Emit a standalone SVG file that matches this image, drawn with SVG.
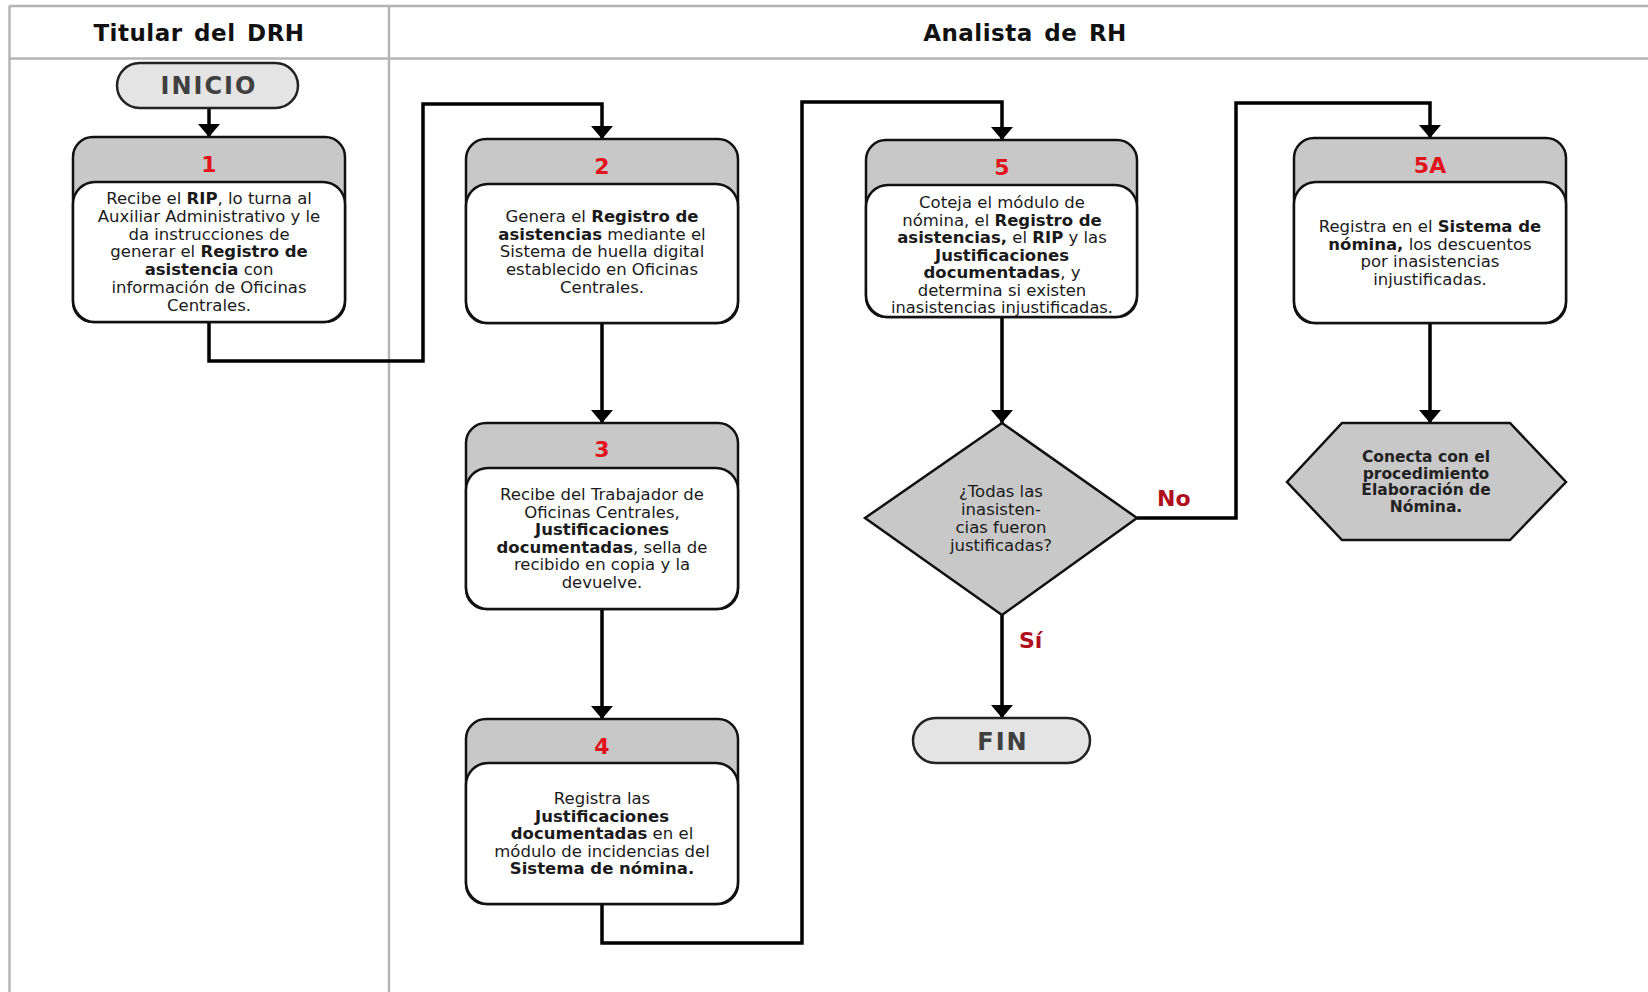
<svg xmlns="http://www.w3.org/2000/svg" width="1648" height="992" viewBox="0 0 1648 992">
  <style>
    .lane { stroke: #b4b4b4; stroke-width: 2.5; fill: none; }
    .lanetitle { font-family: "DejaVu Sans", Verdana, sans-serif; font-size: 23px; font-weight: bold; fill: #111; text-anchor: middle; letter-spacing: 0.5px; word-spacing: 3px; }
    .head { fill: #c8c8c8; stroke: #111; stroke-width: 2.5; }
    .body { fill: #ffffff; stroke: #111; stroke-width: 2.5; }
    .term { fill: #e4e4e4; stroke: #222; stroke-width: 2.5; }
    .shape { fill: #c8c8c8; stroke: #111; stroke-width: 2.5; }
    .num { font-family: "DejaVu Sans", Verdana, sans-serif; font-size: 22px; font-weight: bold; fill: #e3141c; text-anchor: middle; }
    .txt { font-family: "DejaVu Sans", Verdana, sans-serif; font-size: 16.5px; fill: #1a1a1a; text-anchor: middle; }
    .b { font-weight: bold; }
    .termtxt { font-family: "DejaVu Sans", Verdana, sans-serif; font-size: 24px; font-weight: bold; fill: #404040; text-anchor: middle; letter-spacing: 2px; }
    .hextxt { font-family: "DejaVu Sans", Verdana, sans-serif; font-size: 15.5px; font-weight: bold; fill: #222; text-anchor: middle; }
    .lbl { font-family: "DejaVu Sans", Verdana, sans-serif; font-size: 22px; font-weight: bold; fill: #b0101e; }
    .conn { fill: none; stroke: #000; stroke-width: 3.5; stroke-linejoin: miter; }
  </style>
  <defs>
    <marker id="arrow" markerUnits="userSpaceOnUse" markerWidth="13" markerHeight="22" refX="13" refY="11" orient="auto">
      <path d="M0,0 L13,11 L0,22 z" fill="#000"/>
    </marker>
  </defs>

  <rect width="1648" height="992" fill="#ffffff"/>

  <!-- swimlane frame -->
  <g id="lanes">
    <line class="lane" x1="9" y1="6" x2="1648" y2="6"/>
    <line class="lane" x1="9" y1="58.5" x2="1648" y2="58.5"/>
    <line class="lane" x1="9.5" y1="6" x2="9.5" y2="992"/>
    <line class="lane" x1="389" y1="6" x2="389" y2="992"/>
    <text class="lanetitle" x="199" y="41">Titular del DRH</text>
    <text class="lanetitle" x="1025" y="41">Analista de RH</text>
  </g>

  <!-- connectors -->
  <g id="connectors">
    <path class="conn" d="M209,108 V137" marker-end="url(#arrow)"/>
    <path class="conn" d="M209,322 V361 H423 V104 H602 V139" marker-end="url(#arrow)"/>
    <path class="conn" d="M602,323 V423" marker-end="url(#arrow)"/>
    <path class="conn" d="M602,609 V719" marker-end="url(#arrow)"/>
    <path class="conn" d="M602,904 V943 H802 V102 H1002 V140" marker-end="url(#arrow)"/>
    <path class="conn" d="M1002,317 V423" marker-end="url(#arrow)"/>
    <path class="conn" d="M1002,615 V718" marker-end="url(#arrow)"/>
    <path class="conn" d="M1137,518 H1236 V103 H1430 V138" marker-end="url(#arrow)"/>
    <path class="conn" d="M1430,323 V423" marker-end="url(#arrow)"/>
    <text class="lbl" x="1157" y="506">No</text>
    <text class="lbl" x="1019" y="648">Sí</text>
  </g>

  <!-- start -->
  <g id="inicio">
    <rect class="term" x="117" y="63" width="181" height="45" rx="22.5"/>
    <text class="termtxt" x="209" y="94">INICIO</text>
  </g>

  <!-- step 1 -->
  <g id="step1">
    <rect class="head" x="73" y="137" width="272" height="185" rx="20"/>
    <rect class="body" x="73" y="182" width="272" height="140" rx="22"/>
    <text class="num" x="209" y="172">1</text>
    <text class="txt" x="209" y="204">Recibe el <tspan class="b">RIP</tspan>, lo turna al</text>
    <text class="txt" x="209" y="221.8">Auxiliar Administrativo y le</text>
    <text class="txt" x="209" y="239.6">da instrucciones de</text>
    <text class="txt" x="209" y="257.4">generar el <tspan class="b">Registro de</tspan></text>
    <text class="txt" x="209" y="275.2"><tspan class="b">asistencia</tspan> con</text>
    <text class="txt" x="209" y="293">información de Oficinas</text>
    <text class="txt" x="209" y="310.8">Centrales.</text>
  </g>

  <!-- step 2 -->
  <g id="step2">
    <rect class="head" x="466" y="139" width="272" height="184" rx="20"/>
    <rect class="body" x="466" y="184" width="272" height="139" rx="22"/>
    <text class="num" x="602" y="174">2</text>
    <text class="txt" x="602" y="222">Genera el <tspan class="b">Registro de</tspan></text>
    <text class="txt" x="602" y="239.7"><tspan class="b">asistencias</tspan> mediante el</text>
    <text class="txt" x="602" y="257.4">Sistema de huella digital</text>
    <text class="txt" x="602" y="275.1">establecido en Oficinas</text>
    <text class="txt" x="602" y="292.8">Centrales.</text>
  </g>

  <!-- step 3 -->
  <g id="step3">
    <rect class="head" x="466" y="423" width="272" height="186" rx="20"/>
    <rect class="body" x="466" y="468" width="272" height="141" rx="22"/>
    <text class="num" x="602" y="457">3</text>
    <text class="txt" x="602" y="500">Recibe del Trabajador de</text>
    <text class="txt" x="602" y="517.5">Oficinas Centrales,</text>
    <text class="txt" x="602" y="535"><tspan class="b">Justificaciones</tspan></text>
    <text class="txt" x="602" y="552.5"><tspan class="b">documentadas</tspan>, sella de</text>
    <text class="txt" x="602" y="570">recibido en copia y la</text>
    <text class="txt" x="602" y="587.5">devuelve.</text>
  </g>

  <!-- step 4 -->
  <g id="step4">
    <rect class="head" x="466" y="719" width="272" height="185" rx="20"/>
    <rect class="body" x="466" y="763" width="272" height="141" rx="22"/>
    <text class="num" x="602" y="754">4</text>
    <text class="txt" x="602" y="804">Registra las</text>
    <text class="txt" x="602" y="821.5"><tspan class="b">Justificaciones</tspan></text>
    <text class="txt" x="602" y="839"><tspan class="b">documentadas</tspan> en el</text>
    <text class="txt" x="602" y="856.5">módulo de incidencias del</text>
    <text class="txt" x="602" y="874"><tspan class="b">Sistema de nómina.</tspan></text>
  </g>

  <!-- step 5 -->
  <g id="step5">
    <rect class="head" x="866" y="140" width="271" height="177" rx="20"/>
    <rect class="body" x="866" y="185" width="271" height="132" rx="22"/>
    <text class="num" x="1002" y="175">5</text>
    <text class="txt" x="1002" y="208">Coteja el módulo de</text>
    <text class="txt" x="1002" y="225.5">nómina, el <tspan class="b">Registro de</tspan></text>
    <text class="txt" x="1002" y="243"><tspan class="b">asistencias,</tspan> el <tspan class="b">RIP</tspan> y las</text>
    <text class="txt" x="1002" y="260.5"><tspan class="b">Justificaciones</tspan></text>
    <text class="txt" x="1002" y="278"><tspan class="b">documentadas</tspan>, y</text>
    <text class="txt" x="1002" y="295.5">determina si existen</text>
    <text class="txt" x="1002" y="313" textLength="222" lengthAdjust="spacingAndGlyphs">inasistencias injustificadas.</text>
  </g>

  <!-- decision -->
  <g id="decision">
    <polygon class="shape" points="1002,423 1137,518 1002,615 865,518"/>
    <text class="txt" x="1001" y="497">¿Todas las</text>
    <text class="txt" x="1001" y="515">inasisten-</text>
    <text class="txt" x="1001" y="533">cias fueron</text>
    <text class="txt" x="1001" y="551">justificadas?</text>
  </g>

  <!-- end -->
  <g id="fin">
    <rect class="term" x="913" y="718" width="177" height="45" rx="22.5"/>
    <text class="termtxt" x="1003" y="750">FIN</text>
  </g>

  <!-- step 5A -->
  <g id="step5A">
    <rect class="head" x="1294" y="138" width="272" height="185" rx="20"/>
    <rect class="body" x="1294" y="182" width="272" height="141" rx="22"/>
    <text class="num" x="1430" y="173">5A</text>
    <text class="txt" x="1430" y="232">Registra en el <tspan class="b">Sistema de</tspan></text>
    <text class="txt" x="1430" y="249.5"><tspan class="b">nómina,</tspan> los descuentos</text>
    <text class="txt" x="1430" y="267">por inasistencias</text>
    <text class="txt" x="1430" y="284.5">injustificadas.</text>
  </g>

  <!-- off-page connector -->
  <g id="connector-nomina">
    <polygon class="shape" points="1342,423 1510,423 1566,482 1510,540 1342,540 1287,482"/>
    <text class="hextxt" x="1426" y="462">Conecta con el</text>
    <text class="hextxt" x="1426" y="478.7">procedimiento</text>
    <text class="hextxt" x="1426" y="495.4">Elaboración de</text>
    <text class="hextxt" x="1426" y="512">Nómina.</text>
  </g>
</svg>
